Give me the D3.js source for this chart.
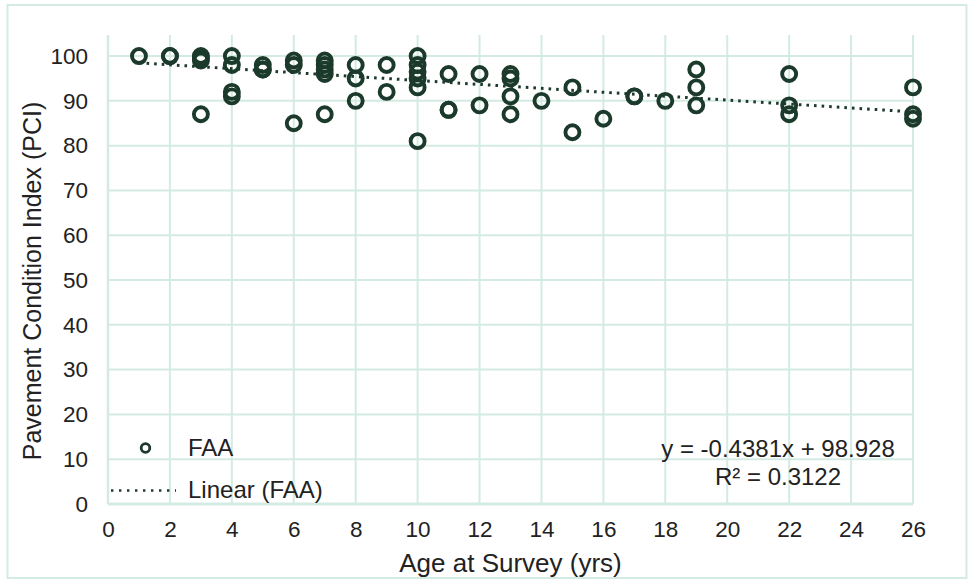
<!DOCTYPE html>
<html>
<head>
<meta charset="utf-8">
<script src="https://cdn.jsdelivr.net/npm/d3@7"></script>
<style>
  html, body { margin: 0; padding: 0; background: #fff; }
  svg { display: block; font-family: "Liberation Sans", Arial, sans-serif; }
</style>
</head>
<body>
<div id="chart"></div>
<script>
// Age at survey (yrs) and PCI readings, one entry per survey
const ages = [
  1,
  2, 2,
  3, 3, 3, 3,
  4, 4, 4, 4,
  5, 5, 5,
  6, 6, 6,
  7, 7, 7, 7, 7,
  8, 8, 8,
  9, 9,
  10, 10, 10, 10, 10, 10,
  11, 11, 11,
  12, 12,
  13, 13, 13, 13,
  14,
  15, 15,
  16,
  17, 17,
  18,
  19, 19, 19,
  22, 22, 22,
  26, 26, 26
];
const pci = [
  100,
  100, 100,
  100, 99.5, 99, 87,
  100, 98, 92, 91,
  98, 97, 97,
  99, 98, 85,
  99, 98, 97, 96, 87,
  98, 95, 90,
  98, 92,
  100, 98, 96.5, 95, 93, 81,
  96, 88, 88,
  96, 89,
  96, 95, 91, 87,
  90,
  93, 83,
  86,
  91, 91,
  90,
  97, 93, 89,
  96, 89, 87,
  93, 87, 86
];

// trendline as shown on the chart
const slope = -0.4381;
const intercept = 98.928;
const rSquared = 0.3122;

const xTicks = d3.range(0, 27, 2);
const yTicks = d3.range(0, 101, 10);

const width = 969, height = 581;
const margin = { top: 35, right: 56, bottom: 77, left: 108 };
const gridColor = '#d3ebe2';
const markColor = '#1c3a2c';
const textColor = '#222';

const svg = d3.select('#chart').append('svg')
  .attr('width', width)
  .attr('height', height);

// outer chart border
svg.append('rect')
  .attr('x', 7.5).attr('y', 5)
  .attr('width', 959).attr('height', 573)
  .attr('fill', 'none')
  .attr('stroke', gridColor)
  .attr('stroke-width', 2);

const x = d3.scaleLinear().domain([0, 26]).range([margin.left, width - margin.right]);
const y = d3.scaleLinear().domain([0, 104.7]).range([height - margin.bottom, margin.top]);

// gridlines
svg.append('g')
  .selectAll('line')
  .data(yTicks.filter(d => d > 0))
  .join('line')
  .attr('x1', x(0)).attr('x2', x(26))
  .attr('y1', d => y(d)).attr('y2', d => y(d))
  .attr('stroke', gridColor)
  .attr('stroke-width', 2);

svg.append('g')
  .selectAll('line')
  .data(xTicks.filter(d => d > 0))
  .join('line')
  .attr('x1', d => x(d)).attr('x2', d => x(d))
  .attr('y1', y(0)).attr('y2', y.range()[1])
  .attr('stroke', gridColor)
  .attr('stroke-width', 2);

// axis lines
svg.append('line')
  .attr('x1', x(0)).attr('x2', x(0))
  .attr('y1', y(0)).attr('y2', y.range()[1])
  .attr('stroke', gridColor).attr('stroke-width', 2.5);
svg.append('line')
  .attr('x1', x(0)).attr('x2', x(26))
  .attr('y1', y(0)).attr('y2', y(0))
  .attr('stroke', gridColor).attr('stroke-width', 3);

// tick labels via d3 axes, lines hidden
const xAxis = svg.append('g')
  .attr('transform', `translate(0,${y(0)})`)
  .call(d3.axisBottom(x).tickValues(xTicks).tickSize(0).tickPadding(17));
const yAxis = svg.append('g')
  .attr('transform', `translate(${x(0)},0)`)
  .call(d3.axisLeft(y).tickValues(yTicks).tickSize(0).tickPadding(20));
[xAxis, yAxis].forEach(a => {
  a.select('.domain').remove();
  a.selectAll('text')
    .attr('fill', textColor)
    .style('font-size', '22.5px')
    .style('font-family', '"Liberation Sans", Arial, sans-serif');
});

// axis titles
svg.append('text')
  .attr('x', (x(0) + x(26)) / 2)
  .attr('y', 572)
  .attr('text-anchor', 'middle')
  .attr('fill', textColor)
  .style('font-size', '26px')
  .text('Age at Survey (yrs)');

svg.append('text')
  .attr('transform', `translate(41,${281}) rotate(-90)`)
  .attr('text-anchor', 'middle')
  .attr('fill', textColor)
  .style('font-size', '25px')
  .text('Pavement Condition Index (PCI)');

// trendline over data range
const xMin = d3.min(ages), xMax = d3.max(ages);
svg.append('line')
  .attr('x1', x(xMin)).attr('y1', y(slope * xMin + intercept))
  .attr('x2', x(xMax)).attr('y2', y(slope * xMax + intercept))
  .attr('stroke', markColor)
  .attr('stroke-width', 3)
  .attr('stroke-dasharray', '2.6,5');

// points
svg.append('g')
  .selectAll('circle')
  .data(ages.map((a, i) => ({ a, v: pci[i] })))
  .join('circle')
  .attr('cx', d => x(d.a))
  .attr('cy', d => y(d.v))
  .attr('r', 7)
  .attr('fill', 'none')
  .attr('stroke', markColor)
  .attr('stroke-width', 3.9);

// legend
const legend = svg.append('g');
legend.append('circle')
  .attr('cx', 145.5).attr('cy', 448)
  .attr('r', 4.3)
  .attr('fill', 'none')
  .attr('stroke', markColor)
  .attr('stroke-width', 2.8);
legend.append('text')
  .attr('x', 188).attr('y', 456)
  .attr('fill', textColor)
  .style('font-size', '24px')
  .text('FAA');
legend.append('line')
  .attr('x1', 111).attr('x2', 176)
  .attr('y1', 490.5).attr('y2', 490.5)
  .attr('stroke', markColor)
  .attr('stroke-width', 2.6)
  .attr('stroke-dasharray', '2.4,5.6');
legend.append('text')
  .attr('x', 188).attr('y', 498)
  .attr('fill', textColor)
  .style('font-size', '24px')
  .text('Linear (FAA)');

// equation label
svg.append('text')
  .attr('x', 778).attr('y', 457)
  .attr('text-anchor', 'middle')
  .attr('fill', textColor)
  .style('font-size', '24px')
  .text(`y = ${slope}x + ${intercept}`);
svg.append('text')
  .attr('x', 778).attr('y', 485)
  .attr('text-anchor', 'middle')
  .attr('fill', textColor)
  .style('font-size', '24px')
  .text(`R² = ${rSquared}`);
</script>
</body>
</html>
